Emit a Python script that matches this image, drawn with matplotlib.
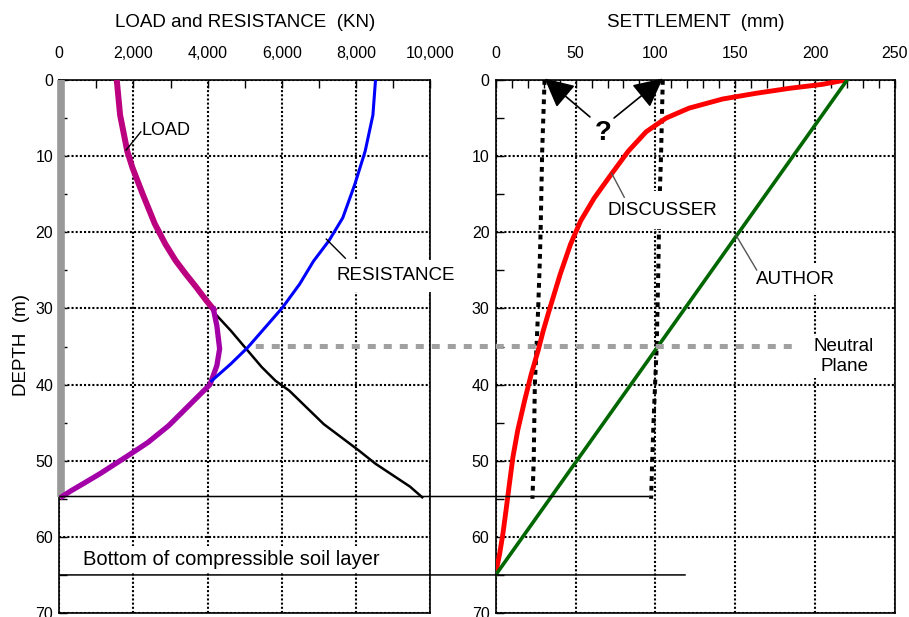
import matplotlib
matplotlib.use('Agg')
import matplotlib.pyplot as plt
from matplotlib.patches import ConnectionPatch
from matplotlib.ticker import MultipleLocator
import matplotlib.transforms as mtransforms

plt.rcParams['font.family'] = ['Liberation Sans', 'DejaVu Sans']

# ---------------- data ----------------
# Left panel: load and resistance (kN) vs depth (m)
load_upper_depth = [0, 4.6, 9.35, 11.5, 15, 18.9, 21.5, 23.7, 25.5, 27.2, 29.0, 30.1]
load_upper = [1550, 1640, 1833, 1972, 2251, 2577, 2856, 3135, 3414, 3693, 3972, 4158]
load_lower_depth = [30.1, 32.3, 35.3, 37.5, 40, 42.7, 45.4, 47.6, 49.4, 51.7, 53, 54, 54.7]
load_lower = [4158, 4251, 4325, 4251, 4065, 3507, 2949, 2391, 1833, 1100, 650, 300, 80]
resist_depth = [0, 4.6, 9.35, 13.7, 18.1, 21.1, 23.8, 26.8, 29.9, 32.5, 35.1, 37.3, 39.5]
resist = [8530, 8460, 8251, 7972, 7647, 7275, 6856, 6484, 6019, 5554, 5088, 4623, 4111]
toe_depth = [30.1, 30.7, 32.9, 35.3, 37.7, 39.5, 40.8, 43.0, 45.2, 46.9, 48.6, 50.4, 51.9, 53.4, 54.8]
toe_resist = [4158, 4204, 4623, 5041, 5460, 5832, 6204, 6669, 7135, 7600, 8065, 8530, 8995, 9460, 9790]
pile_x = [0, 0]
pile_depth = [0, 54.7]

# Right panel: settlement (mm) vs depth (m)
disc_depth = [0, 0.57, 1.1, 1.75, 2.5, 3.7, 5.0, 6.8, 9.35, 12.4, 15.5, 18.5, 21.6, 25.5,
              29.9, 32.9, 35.5, 38.6, 42.1, 46.0, 49.5, 53.0, 56.3, 59.6, 62.2, 64.8]
disc_settle = [219, 204.6, 183.7, 162.9, 142, 121, 106.7, 94.2, 83.0, 72.3, 61.7, 53.2, 46.8, 40.4,
               34.0, 29.8, 26.6, 22.3, 18.1, 13.8, 10.8, 8.6, 6.6, 4.5, 2.5, 0]
author_depth = [0, 65]
author_settle = [220, 0]
q1_depth = [0, 9.35, 20, 24.5, 30, 35.3, 40, 50, 55]
q1_settle = [30.6, 29.1, 28.1, 27.5, 26.6, 25.5, 24.5, 23.8, 23.0]
q2_depth = [0, 10, 14.5, 20, 25, 30, 35, 40, 45, 50, 55]
q2_settle = [104.6, 103.5, 102.8, 102.2, 101.8, 101.3, 100.8, 99.8, 98.8, 98.0, 97.3]

neutral_depth = 35
toe_level = 54.7
bottom_layer = 65

left_xticks = [0, 2000, 4000, 6000, 8000, 10000]
left_xticklabels = ['0', '2,000', '4,000', '6,000', '8,000', '10,000']
right_xticks = [0, 50, 100, 150, 200, 250]
right_xticklabels = ['0', '50', '100', '150', '200', '250']
yticks = [0, 10, 20, 30, 40, 50, 60, 70]
yticklabels = ['0', '10', '20', '30', '40', '50', '60', '70']

# ---------------- figure ----------------
W, H = 909, 617
fig = plt.figure(figsize=(W / 100, H / 100), dpi=100)


def px_axes(l, t, r, b):
    return [l / W, 1 - b / H, (r - l) / W, (b - t) / H]


ax1 = fig.add_axes(px_axes(59.3, 80, 430, 613))
ax2 = fig.add_axes(px_axes(495.7, 80, 895, 613))

dotted = (0, (1, 1))
for ax, xt, xtl, xmin in [(ax1, left_xticks, left_xticklabels, 1000),
                          (ax2, right_xticks, right_xticklabels, 10)]:
    ax.set_xlim(xt[0], xt[-1])
    ax.set_ylim(70, 0)
    ax.xaxis.tick_top()
    ax.set_xticks(xt)
    ax.set_xticklabels(xtl)
    ax.xaxis.set_minor_locator(MultipleLocator(xmin))
    ax.set_yticks(yticks)
    ax.set_yticklabels(yticklabels)
    ax.yaxis.set_minor_locator(MultipleLocator(5))
    ax.tick_params(axis='both', which='both', direction='in', length=6, width=1,
                   color='black', labelsize=11.5)
    ax.tick_params(axis='x', which='both', top=True, bottom=False, pad=14)
    ax.tick_params(axis='y', which='both', left=True, right=False, pad=4.5)
    ax.grid(True, which='major', color='black', linestyle=dotted, linewidth=1.5)
    ax.set_axisbelow(True)
    for s in ax.spines.values():
        s.set_linewidth(1.2)
        s.set_color('black')

# Left panel curves
offset = mtransforms.ScaledTranslation(2 / 100, 0, fig.dpi_scale_trans)
ax1.plot(pile_x, pile_depth, color='#999999', lw=5.5, solid_capstyle='butt',
         clip_on=False, zorder=5, transform=ax1.transData + offset)
ax1.plot(load_upper, load_upper_depth, color='#BB0080', lw=4.3, zorder=5)
ax1.plot(load_lower, load_lower_depth, color='#A300A8', lw=3.8, zorder=5)
ax1.plot(resist, resist_depth, color='#0000FF', lw=2.2, zorder=5)
ax1.plot(toe_resist, toe_depth, color='black', lw=1.8, zorder=4.5)

# Right panel curves
ax2.plot(q1_settle, q1_depth, color='black', lw=2.9, linestyle=(0, (1.2, 1.2)), zorder=3)
ax2.plot(q2_settle, q2_depth, color='black', lw=2.9, linestyle=(0, (1.2, 1.2)), zorder=3)
ax2.plot(disc_settle, disc_depth, color='#FF0000', lw=3.5, zorder=5)
ax2.plot(author_settle, author_depth, color='#006600', lw=2.6, zorder=5)

# Horizontal lines spanning both panels
for depth, x_end, kw in [(toe_level, 96, dict(color='black', lw=1.1)),
                         (bottom_layer, 119, dict(color='black', lw=1.1)),
                         (neutral_depth, 186, dict(color='#A0A0A0', lw=3.6,
                                                   linestyle=(0, (1.6, 1.6))))]:
    x_start = 5300 if depth == neutral_depth else 0
    con = ConnectionPatch(xyA=(x_start, depth), coordsA=ax1.transData,
                          xyB=(x_end, depth), coordsB=ax2.transData,
                          arrowstyle='-', capstyle='butt', **kw)
    con.set_zorder(6)
    fig.add_artist(con)

white = dict(facecolor='white', edgecolor='none')

# Labels left
ax1.plot([1803, 2200], [9.2, 6.8], color='black', lw=1.0, zorder=6)
ax1.text(2230, 6.57, 'LOAD', fontsize=13, ha='left', va='center', zorder=4,
         bbox=dict(boxstyle='square,pad=0.3', **white))
ax1.plot([7203, 7715], [20.9, 23.4], color='black', lw=1.0, zorder=6)
ax1.text(9064, 25.7, 'RESISTANCE', fontsize=13.5, ha='center', va='center', zorder=4,
         clip_on=False, bbox=dict(boxstyle='square,pad=0.4', **white))
ax1.text(640, 63.0, 'Bottom of compressible soil layer', fontsize=14.5, ha='left',
         va='center', zorder=4, bbox=dict(boxstyle='square,pad=0.2', **white))

# Labels right
ax2.plot([72.6, 80.5], [12.25, 15.4], color='#555555', lw=1.0, zorder=6)
ax2.text(104.4, 17.1, 'DISCUSSER', fontsize=13.5, ha='center', va='center', zorder=4,
         bbox=dict(boxstyle='square,pad=0.55', **white))
ax2.plot([150.5, 163.4], [20.4, 24.95], color='#555555', lw=1.0, zorder=6)
ax2.text(187.7, 26.2, 'AUTHOR', fontsize=13.5, ha='center', va='center', zorder=4,
         bbox=dict(boxstyle='square,pad=0.35', **white))
ax2.text(218.1, 36.35, 'Neutral\nPlane', fontsize=13.5, ha='center', va='center',
         zorder=4, linespacing=1.2, bbox=dict(boxstyle='square,pad=0.15', **white))

ax2.text(67.2, 7.0, '?', fontsize=20, fontweight='bold', ha='center', va='center', zorder=6)
arrow = dict(arrowstyle='-|>,head_length=0.9,head_width=0.45', color='black', lw=1.2,
             shrinkA=0, shrinkB=0, mutation_scale=20)
ax2.annotate('', xy=(q1_settle[0], -0.2), xytext=(59.0, 4.85), arrowprops=arrow,
             annotation_clip=False, zorder=6)
ax2.annotate('', xy=(q2_settle[0], -0.2), xytext=(74.1, 4.99), arrowprops=arrow,
             annotation_clip=False, zorder=6)

# Titles
fig.text(245 / W, 1 - 26.7 / H, 'LOAD and RESISTANCE  (KN)', fontsize=13.5,
         ha='center', va='baseline')
fig.text(695.5 / W, 1 - 26.7 / H, 'SETTLEMENT  (mm)', fontsize=13.5,
         ha='center', va='baseline')
fig.text(21.7 / W, 1 - 345 / H, 'DEPTH  (m)', fontsize=13.5, rotation=90,
         ha='center', va='center')

fig.savefig('out.png', dpi=100)
